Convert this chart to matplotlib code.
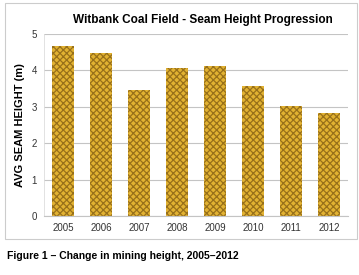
import matplotlib
matplotlib.use("Agg")
import matplotlib.pyplot as plt
from matplotlib.patches import Rectangle

years = ["2005", "2006", "2007", "2008", "2009", "2010", "2011", "2012"]
seam_height = [4.68, 4.47, 3.46, 4.06, 4.11, 3.58, 3.01, 2.83]
y_ticks = [0, 1, 2, 3, 4, 5]

plt.rcParams['font.family'] = ['Liberation Sans', 'DejaVu Sans']
plt.rcParams['hatch.linewidth'] = 0.9

fig = plt.figure(figsize=(3.59, 2.75), dpi=100)
fig.patches.append(Rectangle((5/359, 1-239/275), 352/359, 236/275, transform=fig.transFigure,
                             fill=False, edgecolor='#cccccc', linewidth=0.8))
ax = fig.add_axes([44/359, 1-216/275, 304/359, 182/275])
x = range(len(years))
ax.bar(x, seam_height, width=0.58, color='#E2B232', edgecolor='#98701a', hatch='xxxxx', linewidth=0)
ax.set_xlim(-0.5, len(years)-0.5)
ax.set_ylim(0, 5)
ax.set_yticks(y_ticks)
ax.set_xticks(list(x))
ax.set_xticklabels(years)
ax.tick_params(axis='both', length=0, labelsize=7, colors='#333333', pad=5)
ax.grid(axis='y', color='#c4c4c4', linewidth=0.8)
ax.set_axisbelow(True)
for s in ['top', 'right']:
    ax.spines[s].set_visible(False)
ax.spines['bottom'].set_color('#c4c4c4')
ax.spines['left'].set_color('#dddddd')
ax.spines['left'].set_linewidth(0.6)
ax.set_ylabel('AVG SEAM HEIGHT (m)', fontsize=8, fontweight='bold', labelpad=5)
fig.text(203/359, 1-20/275, 'Witbank Coal Field - Seam Height Progression', ha='center', va='center',
         fontsize=8.5, fontweight='bold')
fig.text(7/359, 1-256/275, 'Figure 1 – Change in mining height, 2005–2012', ha='left', va='center',
         fontsize=7.5, fontweight='bold', family=['Liberation Sans Narrow', 'Liberation Sans', 'DejaVu Sans'])
fig.savefig('out.png', dpi=100)
